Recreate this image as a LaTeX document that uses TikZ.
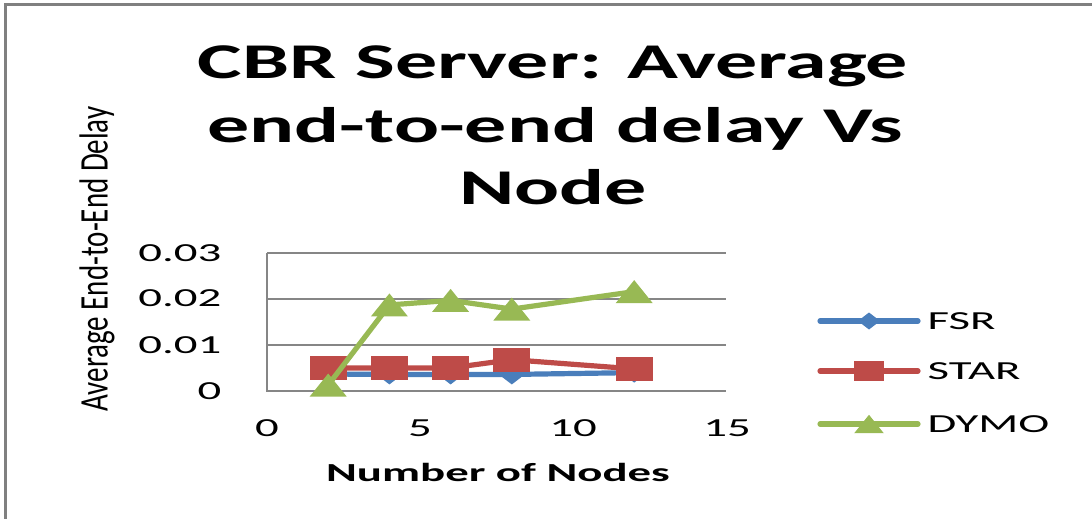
\documentclass[tikz,border=0pt]{standalone}
\usepackage{fontspec}
\setmainfont{Carlito}
\usepackage{tikz}

\definecolor{fsrblue}{RGB}{74,126,187}
\definecolor{starred}{RGB}{190,75,72}
\definecolor{dymogreen}{RGB}{152,185,84}
\definecolor{axisgray}{RGB}{134,134,134}
\definecolor{framegray}{RGB}{128,128,128}

\tikzset{
  dmark/.pic={\fill (-6.5pt,0) -- (0,5pt) -- (6.5pt,0) -- (0,-5pt) -- cycle;},
  smark/.pic={\fill (-9.25pt,-6pt) rectangle (9.25pt,6pt);},
  tmark/.pic={\fill (-9.25pt,-5.75pt) -- (0,5.75pt) -- (9.25pt,-5.75pt) -- cycle;}
}

\begin{document}
\begin{tikzpicture}[x=0.5pt, y=-0.5pt,
    gridline/.style={draw=axisgray, line width=0.9pt},
    series/.style={line width=2.6pt, line join=round},
    legline/.style={line width=2.6pt, line cap=round},
    titletext/.style={font=\bfseries\fontsize{25}{30}\selectfont, xscale=1.68, inner sep=0pt},
    labeltext/.style={font=\fontsize{13}{15}\selectfont, xscale=1.8, inner sep=0pt}]
  \useasboundingbox (0,0) rectangle (1092,519);
  \draw [framegray, line width=1.5pt] (1092,5) -- (5,5) -- (5,519);

  % title
  \node [titletext, anchor=base] (title1) at (553,79) {CBR Server: Average};
  \node [titletext, anchor=base] (title2) at (555,142) {end-to-end delay Vs};
  \node [titletext, anchor=base] (title3) at (553,204) {Node};

  % axis titles
  \node [font=\fontsize{14.5}{16}\selectfont, inner sep=0pt, rotate=90, yscale=1.4]
    (ytitle) at (97,259) {Average End-to-End Delay};
  \node [labeltext, font=\bfseries\fontsize{13}{15}\selectfont] (xtitle) at (498,472) {Number of Nodes};

  % tick labels
  \foreach \v/\y in {0/391, 0.01/345, 0.02/298, 0.03/253}
    \node [labeltext, anchor=east] (ytick\y) at (222,\y) {\v};
  \foreach \v/\x in {0/267, 5/420, 10/573, 15/727}
    \node [labeltext] (xtick\v) at (\x,428) {\v};

  % plot area
  \begin{scope}[shift={(267,391)}, x=15.3pt, y=2300pt]
    \foreach \v in {0.01,0.02,0.03}
      \draw [gridline] (0,\v) -- (15,\v);
    \draw [gridline] (0,0.03) -- (0,0) -- (15,0);

    \draw [series, fsrblue] (2,0.0037) -- (4,0.0036) -- (6,0.0036) -- (8,0.0036) -- (12,0.004);
    \foreach \x/\y in {2/0.0037, 4/0.0036, 6/0.0036, 8/0.0036, 12/0.004}
      \pic [color=fsrblue] at (\x,\y) {dmark};

    \draw [series, starred] (2,0.005) -- (4,0.005) -- (6,0.005) -- (8,0.0068) -- (12,0.0048);
    \foreach \x/\y in {2/0.005, 4/0.005, 6/0.005, 8/0.0068, 12/0.0048}
      \pic [color=starred] at (\x,\y) {smark};

    \draw [series, dymogreen] (2,0.0013) -- (4,0.0187) -- (6,0.0197) -- (8,0.0178) -- (12,0.0216);
    \foreach \x/\y in {2/0.0013, 4/0.0187, 6/0.0197, 8/0.0178, 12/0.0216}
      \pic [color=dymogreen] at (\x,\y) {tmark};
  \end{scope}

  % legend
  \draw [legline, fsrblue] (820,321) -- (918,321);
  \pic [color=fsrblue, scale=0.85] at (869,321) {dmark};
  \node [labeltext, anchor=west] (legfsr) at (927,321) {FSR};
  \draw [legline, starred] (820,371) -- (918,371);
  \pic [color=starred, scale=0.8] at (869,371) {smark};
  \node [labeltext, anchor=west] (legstar) at (927,371) {STAR};
  \draw [legline, dymogreen] (820,424) -- (918,424);
  \pic [color=dymogreen, scale=0.8] at (869,424) {tmark};
  \node [labeltext, anchor=west] (legdymo) at (927,424) {DYMO};
\end{tikzpicture}
\end{document}
